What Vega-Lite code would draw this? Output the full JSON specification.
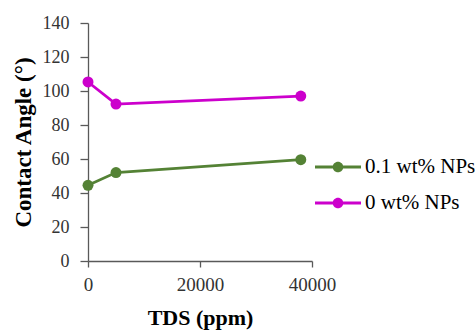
{
  "$schema": "https://vega.github.io/schema/vega-lite/v6.json",
  "width": 224,
  "height": 238,
  "autosize": {"type": "none"},
  "padding": {"left": 88, "top": 23, "right": 163, "bottom": 70},
  "background": "white",
  "config": {
    "view": {"stroke": null},
    "font": "Liberation Serif",
    "axis": {"grid": false, "domainColor": "#595959", "tickColor": "#595959", "labelColor": "#333333", "labelFont": "Liberation Serif", "labelFontSize": 19, "titleFont": "Liberation Serif", "titleFontSize": 22, "titleFontWeight": "bold", "titleColor": "#000000", "domainWidth": 1.3, "tickWidth": 1.3, "labelFlush": false}
  },
  "data": {
    "values": [
      {"tds": 0, "angle": 44.5, "series": "0.1 wt% NPs"},
      {"tds": 5000, "angle": 52, "series": "0.1 wt% NPs"},
      {"tds": 38000, "angle": 59.6, "series": "0.1 wt% NPs"},
      {"tds": 0, "angle": 105.3, "series": "0 wt% NPs"},
      {"tds": 5000, "angle": 92.3, "series": "0 wt% NPs"},
      {"tds": 38000, "angle": 97, "series": "0 wt% NPs"}
    ]
  },
  "mark": {"type": "line", "strokeWidth": 2.8, "point": {"size": 120, "filled": true, "opacity": 1}},
  "encoding": {
    "x": {"field": "tds", "type": "quantitative", "title": "TDS (ppm)", "scale": {"domain": [0, 40000], "nice": false},
      "axis": {"values": [0, 20000, 40000], "format": "d", "tickSize": 6, "labelPadding": 8, "titlePadding": 13}},
    "y": {"field": "angle", "type": "quantitative", "title": "Contact Angle (°)", "scale": {"domain": [0, 140], "nice": false},
      "axis": {"values": [0, 20, 40, 60, 80, 100, 120, 140], "tickSize": 8, "labelPadding": 11, "titlePadding": 7, "labelFontSize": 18, "titleFontSize": 23}},
    "color": {"field": "series", "type": "nominal", "sort": ["0.1 wt% NPs", "0 wt% NPs"],
      "scale": {"domain": ["0.1 wt% NPs", "0 wt% NPs"], "range": ["#548235", "#CC00CC"]},
      "legend": {"title": null, "orient": "none", "legendX": 227, "legendY": 121,
        "symbolType": "M -1 -0.065 L 1 -0.065 L 1 0.065 L -1 0.065 Z M 0.23 0 A 0.23 0.23 0 1 1 -0.23 0 A 0.23 0.23 0 1 1 0.23 0 Z",
        "symbolSize": 2116, "symbolStrokeWidth": 0, "symbolOpacity": 1,
        "labelFont": "Liberation Serif", "labelFontSize": 21, "labelColor": "#000000", "rowPadding": 3, "labelOffset": 4}}
  }
}
